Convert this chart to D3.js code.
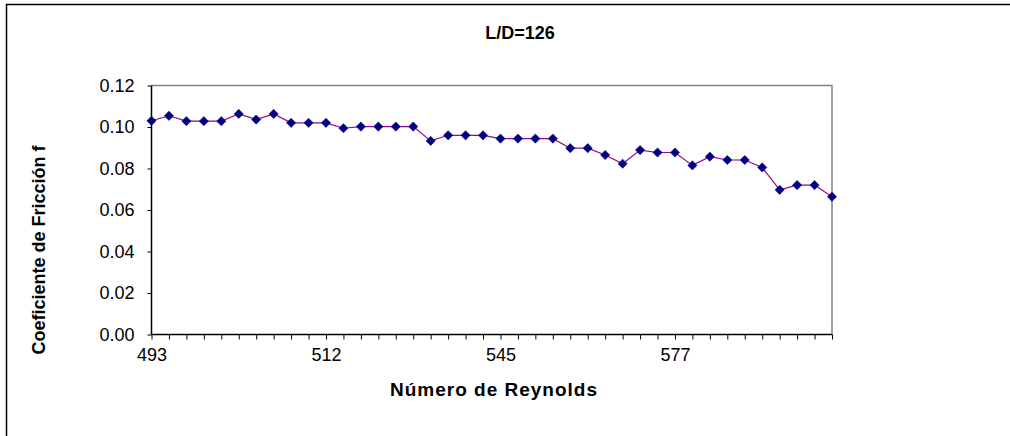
<!DOCTYPE html>
<html><head><meta charset="utf-8">
<script src="https://cdn.jsdelivr.net/npm/d3@7"></script>
<style>html,body{margin:0;padding:0;background:#fff;}svg{display:block;}</style>
</head><body>
<svg id="c" width="1010" height="436"></svg>
<script>
const title = "L/D=126";
const xTitle = "Número de Reynolds";
const yTitle = "Coeficiente de Fricción f";
const xTickLabels = ["493", "512", "545", "577"];
const xLabelEvery = 10;
const friction = [0.1030, 0.1054, 0.1028, 0.1028, 0.1028, 0.1063, 0.1036, 0.1063, 0.1020, 0.1020,
  0.1020, 0.0994, 0.1002, 0.1002, 0.1002, 0.1002, 0.0933, 0.0960, 0.0960, 0.0960,
  0.0944, 0.0944, 0.0944, 0.0944, 0.0898, 0.0898, 0.0865, 0.0823, 0.0889, 0.0877,
  0.0877, 0.0815, 0.0857, 0.0841, 0.0841, 0.0805, 0.0697, 0.0720, 0.0720, 0.0664];
const yTicks = [0, 0.02, 0.04, 0.06, 0.08, 0.10, 0.12];

const FONT = "Liberation Sans, Arial, sans-serif";
const svg = d3.select("#c");
const L = 151.5, R = 832, T = 85.5, B = 334.5;
const idx = friction.map((d, i) => i);
const x = d3.scalePoint().domain(idx).range([L, R]);
const y = d3.scaleLinear().domain([0, 0.12]).range([B, T]);

// outer frame
svg.append("rect").attr("x", 6.5).attr("y", 4.5).attr("width", 1010).attr("height", 440)
  .attr("fill", "none").attr("stroke", "#000").attr("stroke-width", 1.5);

// plot border (top/right gray)
svg.append("path").attr("d", `M${L},${T}H${R}V${B}`).attr("fill", "none")
  .attr("stroke", "#808080").attr("stroke-width", 1.5);

// y axis
const yAxis = d3.axisLeft(y).tickValues(yTicks).tickFormat(d3.format(".2f")).tickSize(4).tickPadding(13);
const gy = svg.append("g").attr("transform", `translate(${L},0)`).call(yAxis);
gy.select(".domain").attr("stroke", "#000").attr("stroke-width", 1.5).attr("d", `M0,${T}V${B}`);
gy.selectAll(".tick line").attr("stroke", "#000");
gy.selectAll(".tick text").attr("font-family", FONT).attr("font-size", 18).attr("fill", "#000");

// x axis
const xAxis = d3.axisBottom(x).tickSize(5).tickPadding(9)
  .tickFormat(i => (i % xLabelEvery === 0 ? (xTickLabels[i / xLabelEvery] || "") : ""));
const gx = svg.append("g").attr("transform", `translate(0,${B})`).call(xAxis);
gx.select(".domain").attr("stroke", "#000").attr("stroke-width", 1.5).attr("d", `M${L},0H${R}`);
gx.selectAll(".tick line").attr("stroke", "#000");
gx.selectAll(".tick text").attr("font-family", FONT).attr("font-size", 18).attr("fill", "#000");

// line
const line = d3.line().x((d, i) => x(i)).y(d => y(d));
svg.append("path").datum(friction).attr("d", line).attr("fill", "none")
  .attr("stroke", "#990099").attr("stroke-width", 1.2);

// markers
const s = 4.6;
svg.append("g").selectAll("path").data(friction).join("path")
  .attr("d", (d, i) => `M${x(i)},${y(d) - s}L${x(i) + s},${y(d)}L${x(i)},${y(d) + s}L${x(i) - s},${y(d)}Z`)
  .attr("fill", "#000080").attr("stroke", "#000080").attr("stroke-width", 0.6);

// titles
svg.append("text").attr("x", 520).attr("y", 39).attr("text-anchor", "middle")
  .attr("font-family", FONT).attr("font-weight", "bold").attr("font-size", 18)
  .text(title);
svg.append("text").attr("x", 494).attr("y", 396).attr("text-anchor", "middle")
  .attr("font-family", FONT).attr("font-weight", "bold").attr("font-size", 19).attr("letter-spacing", 1)
  .text(xTitle);
svg.append("text").attr("transform", "translate(45,250) rotate(-90)").attr("text-anchor", "middle")
  .attr("font-family", FONT).attr("font-weight", "bold").attr("font-size", 18)
  .text(yTitle);
</script>
</body></html>
